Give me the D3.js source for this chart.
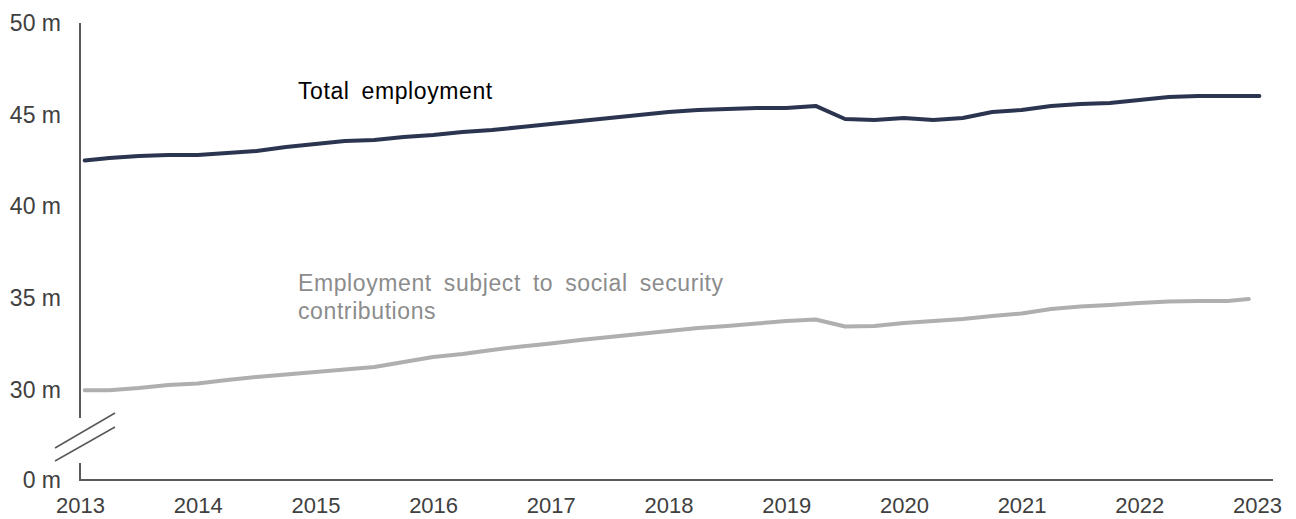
<!DOCTYPE html>
<meta charset="utf-8">
<style>
body { margin: 0; background: #fff; }
text { font-family: "Liberation Sans", Arial, sans-serif; }
.tick text { fill: #404040; }
.yax .tick text { font-size: 23px; }
.xax .tick text { font-size: 22px; }
.series-label { font-size: 23px; letter-spacing: 0.6px; word-spacing: 5px; }
</style>
<svg width="1296" height="519"></svg>
<script src="https://cdn.jsdelivr.net/npm/d3@7"></script>
<script>

// quarterly readings, decimal years
var years = [2013.04, 2013.25, 2013.5, 2013.75,
  2014, 2014.25, 2014.5, 2014.75,
  2015, 2015.25, 2015.5, 2015.75,
  2016, 2016.25, 2016.5, 2016.75,
  2017, 2017.25, 2017.5, 2017.75,
  2018, 2018.25, 2018.5, 2018.75,
  2019, 2019.25, 2019.5, 2019.75,
  2020, 2020.25, 2020.5, 2020.75,
  2021, 2021.25, 2021.5, 2021.75,
  2022, 2022.25, 2022.5, 2022.75,
  2023.02];

// total employment, million
var totalEmp = [42.51, 42.64, 42.75, 42.81,
  42.81, 42.92, 43.02, 43.24,
  43.41, 43.57, 43.62, 43.79,
  43.90, 44.06, 44.17, 44.33,
  44.50, 44.66, 44.82, 44.99,
  45.15, 45.26, 45.31, 45.37,
  45.37, 45.48, 44.77, 44.71,
  44.82, 44.71, 44.82, 45.15,
  45.26, 45.48, 45.59, 45.64,
  45.80, 45.97, 46.02, 46.02,
  46.02];

// employment subject to social security contributions, million
var contribYears = years.slice(0, 40).concat([2022.93]);
var contribEmp = [29.95, 29.95, 30.11, 30.27,
  30.35, 30.54, 30.71, 30.84,
  30.98, 31.12, 31.25, 31.53,
  31.80, 31.96, 32.18, 32.37,
  32.53, 32.72, 32.89, 33.05,
  33.21, 33.38, 33.49, 33.62,
  33.76, 33.84, 33.46, 33.49,
  33.65, 33.76, 33.87, 34.03,
  34.17, 34.41, 34.55, 34.63,
  34.74, 34.82, 34.85, 34.85,
  34.96];

var yTicks = [0, 30, 35, 40, 45, 50];
var xTicks = [2013, 2014, 2015, 2016, 2017, 2018, 2019, 2020, 2021, 2022, 2023];

var svg = d3.select("svg");

var x = d3.scaleLinear().domain([2013, 2023]).range([80, 1257]);
// broken axis: 0..30 squeezed into the bottom gap
var y = d3.scaleLinear().domain([0, 30, 50]).range([480, 390, 23]);

// y axis labels
svg.append("g")
  .attr("class", "yax")
  .attr("transform", "translate(80,0)")
  .call(d3.axisLeft(y).tickValues(yTicks).tickSize(0).tickPadding(19)
    .tickFormat(function(d) { return d + " m"; }))
  .call(function(g) { g.select(".domain").remove(); g.selectAll("text").attr("font-family", null); });
svg.select(".yax").attr("font-size", null);

// x axis labels
svg.append("g")
  .attr("class", "xax")
  .attr("transform", "translate(0," + y(0) + ")")
  .call(d3.axisBottom(x).tickValues(xTicks).tickSize(0).tickPadding(17)
    .tickFormat(d3.format("d")))
  .call(function(g) { g.select(".domain").remove(); g.selectAll("text").attr("font-family", null); });
svg.select(".xax").attr("font-size", null).attr("font-family", null);
svg.select(".yax").attr("font-family", null);

var axisCol = "#595959";
// y axis line in two pieces around the break
svg.append("line").attr("x1", 80).attr("x2", 80).attr("y1", y(50)).attr("y2", 418)
  .attr("stroke", axisCol).attr("stroke-width", 2);
svg.append("line").attr("x1", 80).attr("x2", 80).attr("y1", 463).attr("y2", y(0))
  .attr("stroke", axisCol).attr("stroke-width", 2);
// x axis line
svg.append("line").attr("x1", 79).attr("x2", 1273).attr("y1", y(0)).attr("y2", y(0))
  .attr("stroke", axisCol).attr("stroke-width", 2);

// break marks
[[448, 413], [461, 427]].forEach(function(p) {
  svg.append("line").attr("x1", 55).attr("y1", p[0]).attr("x2", 115).attr("y2", p[1])
    .attr("stroke", axisCol).attr("stroke-width", 1.5);
});

var line = d3.line()
  .x(function(d) { return x(d[0]); })
  .y(function(d) { return y(d[1]); });

svg.append("path")
  .datum(d3.zip(contribYears, contribEmp))
  .attr("d", line)
  .attr("fill", "none")
  .attr("stroke", "#afafaf")
  .attr("stroke-width", 4)
  .attr("stroke-linejoin", "round")
  .attr("stroke-linecap", "round");

svg.append("path")
  .datum(d3.zip(years, totalEmp))
  .attr("d", line)
  .attr("fill", "none")
  .attr("stroke", "#2c3550")
  .attr("stroke-width", 4)
  .attr("stroke-linejoin", "round")
  .attr("stroke-linecap", "round");

// series labels
svg.append("text")
  .attr("class", "series-label")
  .attr("x", 298).attr("y", 99)
  .attr("fill", "#000")
  .text("Total employment");

var lbl = svg.append("text")
  .attr("class", "series-label")
  .attr("x", 298).attr("y", 291)
  .attr("fill", "#8c8c8c");
lbl.append("tspan").attr("x", 298).text("Employment subject to social security");
lbl.append("tspan").attr("x", 298).attr("dy", 28).text("contributions");

</script>
